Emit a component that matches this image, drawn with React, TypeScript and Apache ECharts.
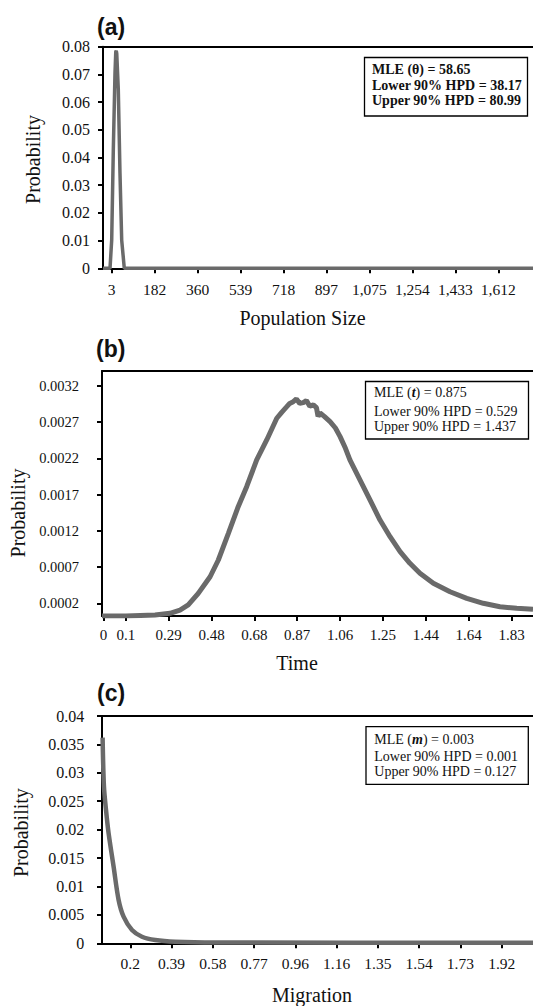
import React, { useEffect, useRef } from "react";
import * as echarts from "echarts";

// ---------- data ----------
// (a) Population size posterior
const popData: [number, number][] = [
  [-33.2, 0], [-4, 0], [3, 0.0102], [9.7, 0.0427], [16.7, 0.0704], [20, 0.0782],
  [22.1, 0.0785], [24, 0.0775], [30.5, 0.0644], [37.5, 0.0343], [44.6, 0.0102],
  [55.4, 0], [1756.5, 0],
];
const popTickVals = [3, 181.8, 360.6, 539.3, 718.1, 896.9, 1075.7, 1254.5, 1433.2, 1612];
const popTickLabels = ["3", "182", "360", "539", "718", "897", "1,075", "1,254", "1,433", "1,612"];

// (b) Time posterior
const timeData: [number, number][] = [
  [-0.0067, 0.000025], [0.1, 0.000025], [0.231, 0.00004], [0.298, 0.000062], [0.343, 0.000107],
  [0.38, 0.000177], [0.425, 0.000338], [0.478, 0.000567], [0.515, 0.000798],
  [0.56, 0.001167], [0.604, 0.001534], [0.642, 0.00181], [0.687, 0.002179],
  [0.732, 0.002455], [0.777, 0.002755], [0.8, 0.00284], [0.822, 0.002915],
  [0.835, 0.00296], [0.851, 0.002984], [0.865, 0.00302], [0.88, 0.00296],
  [0.896, 0.00297], [0.91, 0.00300], [0.925, 0.00292], [0.941, 0.002939],
  [0.955, 0.0029], [0.962, 0.00278], [0.971, 0.002828], [0.99, 0.00278],
  [1.016, 0.002708], [1.04, 0.00262], [1.061, 0.002501], [1.085, 0.00234],
  [1.105, 0.002179], [1.15, 0.001903], [1.195, 0.001627], [1.24, 0.00135],
  [1.285, 0.00112], [1.33, 0.000913], [1.374, 0.000752], [1.419, 0.000614],
  [1.479, 0.000476], [1.554, 0.00036], [1.629, 0.000269], [1.703, 0.0002],
  [1.778, 0.000153], [1.853, 0.000131], [1.926, 0.000117],
];
const timeTickVals = [0, 0.1, 0.2922, 0.4844, 0.6766, 0.8688, 1.061, 1.2532, 1.4454, 1.6376, 1.8298];
const timeTickLabels = ["0", "0.1", "0.29", "0.48", "0.68", "0.87", "1.06", "1.25", "1.44", "1.64", "1.83"];
const timeYTicks = [0.0002, 0.0007, 0.0012, 0.0017, 0.0022, 0.0027, 0.0032];

// (c) Migration posterior
const migData: [number, number][] = [
  [0.0718, 0.0362], [0.078, 0.0276], [0.0876, 0.02346], [0.0996, 0.01936],
  [0.1227, 0.01348], [0.1459, 0.00762], [0.169, 0.00468], [0.2079, 0.00234],
  [0.2542, 0.00116], [0.3157, 0.00058], [0.4083, 0.00028], [0.6, 0.00015],
  [2.065, 0.0001],
];
const migTickVals = [0.2, 0.3911, 0.5822, 0.7733, 0.9644, 1.1555, 1.3466, 1.5377, 1.7288, 1.92];
const migTickLabels = ["0.2", "0.39", "0.58", "0.77", "0.96", "1.16", "1.35", "1.54", "1.73", "1.92"];

// ---------- helpers ----------
const SERIF = '"Liberation Serif", "Times New Roman", serif';
const LINE = "#6a6a6a";

function nearestLabel(vals: number[], labels: string[]) {
  return (v: number) => {
    let best = 0;
    for (let i = 1; i < vals.length; i++) {
      if (Math.abs(vals[i] - v) < Math.abs(vals[best] - v)) best = i;
    }
    return labels[best];
  };
}

const axisLineStyle = { show: true, onZero: false, lineStyle: { color: "#000", width: 2 } };
const tickStyle = { show: true, length: 5, lineStyle: { color: "#000", width: 2 } };

export default function App() {
  const ref = useRef<HTMLDivElement>(null);
  useEffect(() => {
    document.body.style.margin = "0";
    const chart = echarts.init(ref.current!, null, { renderer: "svg" });

    const bottomX = (gi: number, min: number, max: number, vals: number[], labels: string[], name: string, gap: number, pad: number, fs: number, margin: number) => ({
      type: "value", gridIndex: gi, min, max, position: "bottom",
      axisLine: axisLineStyle,
      axisTick: { ...tickStyle, customValues: vals },
      axisLabel: { customValues: vals, formatter: nearestLabel(vals, labels), color: "#111", fontFamily: SERIF, fontSize: fs, margin },
      splitLine: { show: false },
      name, nameLocation: "middle", nameGap: gap,
      nameTextStyle: { fontFamily: SERIF, fontSize: 20, color: "#111", padding: [0, pad, 0, 0] },
    });
    const topX = (gi: number) => ({
      type: "value", gridIndex: gi, min: 0, max: 1, position: "top",
      axisLine: axisLineStyle, axisTick: { show: false }, axisLabel: { show: false }, splitLine: { show: false },
    });
    const yAx = (gi: number, extra: any, gap: number, pad: number, fs: number, margin: number) => ({
      type: "value", gridIndex: gi, position: "left",
      axisLine: axisLineStyle,
      splitLine: { show: false },
      name: "Probability", nameLocation: "middle", nameGap: gap,
      nameTextStyle: { fontFamily: SERIF, fontSize: 20, color: "#111", padding: [0, pad, 0, 0] },
      ...extra,
      axisTick: { ...tickStyle, ...(extra.axisTick || {}) },
      axisLabel: { color: "#111", fontFamily: SERIF, fontSize: fs, margin, ...(extra.axisLabel || {}) },
    });

    const legendBox = (x: number, y: number, w: number, h: number) => ({
      type: "rect", shape: { x, y, width: w, height: h },
      style: { fill: "#fff", stroke: "#000", lineWidth: 1.3 }, z: 100,
    });
    const legendText = (x: number, y: number, text: string, bold: boolean, rich?: any) => ({
      type: "text", x, y, z: 101,
      style: {
        text, fill: "#111", verticalAlign: "middle", align: "left",
        font: `${bold ? "bold " : ""}14px ${SERIF}`,
        ...(rich ? { rich } : {}),
      },
    });
    const richBase = {
      n: { fontFamily: SERIF, fontSize: 14, fill: "#111" },
      i: { fontFamily: SERIF, fontSize: 14, fontStyle: "italic", fontWeight: "bold", fill: "#111" },
    };
    const titleStyle = { fontFamily: '"Liberation Sans", Arial, sans-serif', fontWeight: "bold", fontSize: 23, color: "#111" };

    chart.setOption({
      animation: false,
      backgroundColor: "#fff",
      title: [
        { text: "(a)", left: 97, top: 15, padding: 0, textStyle: titleStyle },
        { text: "(b)", left: 96, top: 337, padding: 0, textStyle: titleStyle },
        { text: "(c)", left: 97, top: 681, padding: 0, textStyle: titleStyle },
      ],
      grid: [
        { left: 103, top: 46.7, right: 0, height: 221.6 },
        { left: 102, top: 371, right: 0, height: 245 },
        { left: 102, top: 716, right: 0, height: 227.3 },
      ],
      xAxis: [
        bottomX(0, -33.2, 1756.5, popTickVals, popTickLabels, "Population Size", 39.7, 31, 15.5, 13),
        bottomX(1, -0.0067, 1.926, timeTickVals, timeTickLabels, "Time", 37, 41, 15, 11),
        bottomX(2, 0.069, 2.065, migTickVals, migTickLabels, "Migration", 41.7, 11, 15.5, 12),
        topX(0), topX(1), topX(2),
      ],
      yAxis: [
        yAx(0, { min: 0, max: 0.08, interval: 0.01 }, 60, 4, 16, 13),
        yAx(1, {
          min: 0.000025, max: 0.003407,
          axisTick: { customValues: timeYTicks },
          axisLabel: { customValues: timeYTicks, formatter: (v: number) => v.toFixed(4) },
        }, 72.7, 39, 14.5, 23),
        yAx(2, { min: 0, max: 0.04, interval: 0.005 }, 70.7, 6, 16, 17.7),
      ],
      series: [
        { type: "line", xAxisIndex: 0, yAxisIndex: 0, data: popData, showSymbol: false, lineStyle: { color: LINE, width: 3.5 }, z: 5 },
        { type: "line", xAxisIndex: 1, yAxisIndex: 1, data: timeData, showSymbol: false, lineStyle: { color: LINE, width: 5 }, z: 5 },
        { type: "line", xAxisIndex: 2, yAxisIndex: 2, data: migData, showSymbol: false, smooth: 0.3, lineStyle: { color: LINE, width: 4.5 }, z: 5 },
      ],
      graphic: [
        legendBox(364.5, 57.5, 163, 58.5),
        legendText(372, 69.5, "MLE (θ) = 58.65", true),
        legendText(372, 85.7, "Lower 90% HPD = 38.17", true),
        legendText(372, 100.7, "Upper 90% HPD = 80.99", true),
        legendBox(365.5, 381.5, 163, 57.5),
        legendText(374, 392.3, "{n|MLE (}{i|t}{n|) = 0.875}", false, richBase),
        legendText(374, 411, "Lower 90% HPD = 0.529", false),
        legendText(374, 426.7, "Upper 90% HPD = 1.437", false),
        legendBox(366, 726.7, 162.3, 57.6),
        legendText(374.3, 739, "{n|MLE (}{i|m}{n|) = 0.003}", false, richBase),
        legendText(374.3, 756.7, "Lower 90% HPD = 0.001", false),
        legendText(374.3, 771.7, "Upper 90% HPD = 0.127", false),
      ],
    });
    return () => chart.dispose();
  }, []);
  return <div ref={ref} style={{ width: 533, height: 1006 }} />;
}
